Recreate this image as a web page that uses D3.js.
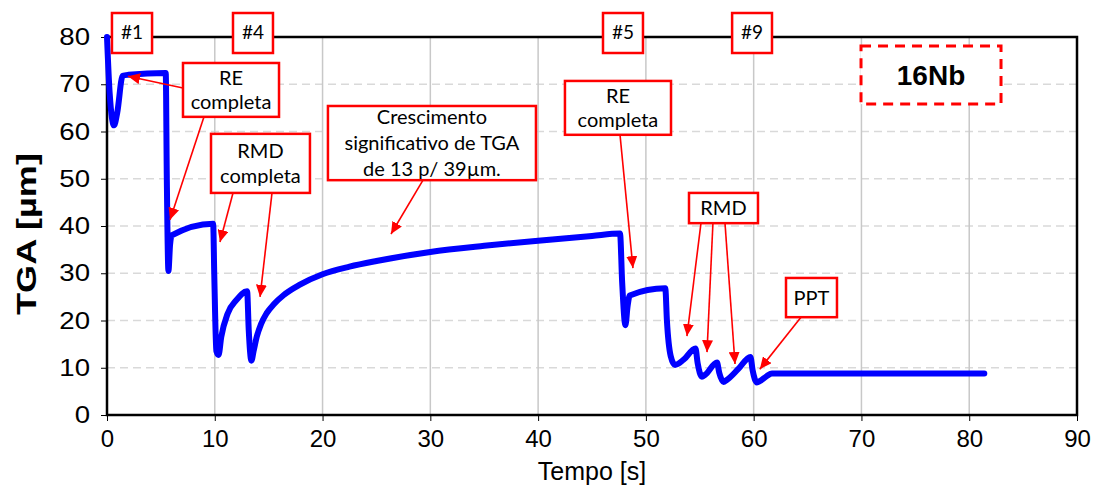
<!DOCTYPE html>
<html><head><meta charset="utf-8">
<script src="https://cdn.jsdelivr.net/npm/d3@7"></script>
<style>html,body{margin:0;padding:0;background:#fff;}svg{display:block;}</style>
</head><body>
<svg id="chart" width="1096" height="489"></svg>
<script>
// ---- data ----
const times = [0, 0.25, 0.65, 0.95, 1.45, 2.0, 5.45, 5.55, 5.7, 5.85, 6.0, 9.85, 9.95, 10.15, 10.35, 10.6, 11.2, 12.0, 13.0, 13.15, 13.4, 13.6, 13.9, 14.3, 14.8, 15.5, 16.4, 17.9, 20, 22.5, 25, 30, 35, 40, 45, 47.6, 47.8, 48.1, 48.3, 48.5, 51.8, 51.95, 52.3, 52.7, 53.5, 54.6, 54.8, 55.2, 55.5, 56.6, 56.8, 57.2, 57.5, 58.6, 59.7, 59.9, 60.3, 60.6, 61.2, 61.7, 70, 81.4];
const tga = [80, 68, 61.3, 64, 71.8, 72.0, 72.4, 50, 30.5, 36, 38, 40.5, 30, 13.5, 12.7, 16.5, 21.5, 24.3, 26.2, 18, 11.5, 13.5, 16.6, 19.3, 21.5, 23.5, 25.4, 27.6, 29.8, 31.4, 32.6, 34.5, 35.8, 36.9, 37.9, 38.4, 28, 19, 23, 25.3, 26.8, 20, 12.5, 10.6, 11.7, 14.1, 11, 8.1, 8.5, 11.1, 9, 7, 7.4, 9.8, 12.3, 9.5, 6.9, 7.2, 8.2, 8.8, 8.8, 8.8];
const xTicks = [0, 10, 20, 30, 40, 50, 60, 70, 80, 90];
const yTicks = [0, 10, 20, 30, 40, 50, 60, 70, 80];
const xTitle = "Tempo [s]";
const yTitle = "TGA [µm]";
const seriesLabel = "16Nb";

// annotation boxes (data units) and arrows (data units)
const tagBoxes = [
  {text: "#1", x0: 0.46, x1: 4.18},
  {text: "#4", x0: 11.69, x1: 15.40},
  {text: "#5", x0: 46.02, x1: 49.73},
  {text: "#9", x0: 58.0, x1: 61.7}
];
const noteBoxes = [
  {lines: ["RE", "completa"], x0: 7.05, x1: 15.96, y0: 63.1, y1: 74.5},
  {lines: ["RMD", "completa"], x0: 9.65, x1: 18.83, y0: 47.0, y1: 59.5},
  {lines: ["Crescimento", "significativo de TGA", "de 13 p/ 39µm."], x0: 20.5, x1: 39.8, y0: 49.7, y1: 65.4},
  {lines: ["RE", "completa"], x0: 42.49, x1: 52.33, y0: 59.3, y1: 70.7},
  {lines: ["RMD"], x0: 54.0, x1: 60.4, y0: 40.6, y1: 47.0},
  {lines: ["PPT"], x0: 63.0, x1: 67.73, y0: 20.7, y1: 29.0}
];
const arrows = [
  [7.05, 69.2, 1.95, 71.7],
  [9.0, 63.1, 5.85, 41.3],
  [11.69, 47.0, 10.48, 36.6],
  [15.31, 47.0, 14.2, 25.0],
  [29.32, 49.7, 26.35, 38.3],
  [47.6, 59.3, 48.8, 31.1],
  [55.11, 40.6, 53.81, 16.7],
  [56.22, 40.6, 55.67, 13.3],
  [57.34, 40.6, 58.27, 10.8],
  [64.39, 20.7, 60.57, 9.7]
];
const labelBox = {x0: 69.96, x1: 82.95, y0: 65.8, y1: 78.1};

// ---- layout ----
const W = 1096, H = 489;
const m = {left: 107, right: 1096 - 1077, top: 37, bottom: 489 - 415};
const svg = d3.select("#chart");
const x = d3.scaleLinear().domain([0, 90]).range([m.left, W - m.right]);
const y = d3.scaleLinear().domain([0, 80]).range([H - m.bottom, m.top]);

const defs = svg.append("defs");
defs.append("marker").attr("id", "ah").attr("markerUnits", "userSpaceOnUse")
  .attr("viewBox", "0 0 12 11").attr("refX", 12).attr("refY", 5.5)
  .attr("markerWidth", 12).attr("markerHeight", 11).attr("orient", "auto")
  .append("path").attr("d", "M0,0 L12,5.5 L0,11 Z").attr("fill", "#ff0000");

// gridlines
svg.append("g").selectAll("line").data(yTicks.filter(d => d > 0 && d < 80)).join("line")
  .attr("x1", x(0)).attr("x2", x(90)).attr("y1", d => y(d)).attr("y2", d => y(d))
  .attr("stroke", "#d9d9d9").attr("stroke-width", 1.5).attr("stroke-dasharray", "8,5");
svg.append("g").selectAll("line").data(xTicks.filter(d => d > 0 && d < 90)).join("line")
  .attr("x1", d => x(d)).attr("x2", d => x(d)).attr("y1", y(0)).attr("y2", y(80))
  .attr("stroke", "#c8c8c8").attr("stroke-width", 1.5);

// axes
const xAxis = svg.append("g").attr("transform", `translate(0,${y(0)})`)
  .call(d3.axisBottom(x).tickValues(xTicks).tickSize(6).tickPadding(8).tickFormat(d3.format("d")));
xAxis.select(".domain").remove();
xAxis.selectAll("line").attr("stroke", "#000").attr("stroke-width", 1);
xAxis.selectAll("text").attr("font-family", "Liberation Sans, Arial, sans-serif").attr("font-size", 24).attr("fill", "#000").attr("dy", "0.75em");

const yAxis = svg.append("g").attr("transform", `translate(${x(0)},0)`)
  .call(d3.axisLeft(y).tickValues(yTicks).tickSize(6).tickPadding(11).tickFormat(d3.format("d")));
yAxis.select(".domain").remove();
yAxis.selectAll("line").attr("stroke", "#000").attr("stroke-width", 1);
yAxis.selectAll("text").attr("font-family", "Liberation Sans, Arial, sans-serif").attr("font-size", 24).attr("fill", "#000")
  .each(function() { const l = this.getComputedTextLength(); d3.select(this).attr("textLength", l * 1.15).attr("lengthAdjust", "spacingAndGlyphs"); });

// frame
svg.append("rect").attr("x", x(0)).attr("y", y(80)).attr("width", x(90) - x(0)).attr("height", y(0) - y(80))
  .attr("fill", "none").attr("stroke", "#000").attr("stroke-width", 2.5);

// titles
svg.append("text").attr("x", x(45)).attr("y", 480).attr("text-anchor", "middle")
  .attr("font-family", "Liberation Sans, Arial, sans-serif").attr("font-size", 25).attr("fill", "#000").text(xTitle);
svg.append("text").attr("transform", `translate(36,${(y(0) + y(80)) / 2 + 8}) rotate(-90)`).attr("text-anchor", "middle")
  .attr("font-family", "Liberation Sans, Arial, sans-serif").attr("font-weight", "bold").attr("font-size", 28).attr("fill", "#000")
  .attr("textLength", 162).attr("lengthAdjust", "spacingAndGlyphs").text(yTitle);

// series
const line = d3.line().x((d, i) => x(times[i])).y(d => y(d)).curve(d3.curveMonotoneX);
svg.append("path").datum(tga).attr("d", line).attr("fill", "none").attr("stroke", "#0000ff")
  .attr("stroke-width", 6).attr("stroke-linejoin", "round").attr("stroke-linecap", "round");

// arrows
svg.append("g").selectAll("line").data(arrows).join("line")
  .attr("x1", d => x(d[0])).attr("y1", d => y(d[1])).attr("x2", d => x(d[2])).attr("y2", d => y(d[3]))
  .attr("stroke", "#ff0000").attr("stroke-width", 1.6).attr("marker-end", "url(#ah)");

const boxFont = "Lato, 'Open Sans', sans-serif";
// note boxes
noteBoxes.forEach(b => {
  const g = svg.append("g");
  const bx = x(b.x0), bw = x(b.x1) - x(b.x0), by = y(b.y1), bh = y(b.y0) - y(b.y1);
  g.append("rect").attr("x", bx).attr("y", by).attr("width", bw).attr("height", bh)
    .attr("fill", "#fff").attr("stroke", "#ff0000").attr("stroke-width", 2.5);
  const lh = b.lines.length === 3 ? 26 : 24.5;
  const cy = by + bh / 2;
  b.lines.forEach((t, i) => {
    g.append("text").attr("x", bx + bw / 2).attr("y", cy + (i - (b.lines.length - 1) / 2) * lh)
      .attr("dy", "0.36em").attr("text-anchor", "middle").attr("font-family", boxFont)
      .attr("font-size", 20).attr("fill", "#000").text(t);
  });
});

// tag boxes at the top
tagBoxes.forEach(b => {
  const g = svg.append("g");
  const bx = x(b.x0), bw = x(b.x1) - x(b.x0);
  g.append("rect").attr("x", bx).attr("y", 13).attr("width", bw).attr("height", 40)
    .attr("fill", "#fff").attr("stroke", "#ff0000").attr("stroke-width", 2.5);
  g.append("text").attr("x", bx + bw / 2).attr("y", 39).attr("text-anchor", "middle")
    .attr("font-family", boxFont).attr("font-size", 19).attr("fill", "#000").text(b.text);
});

// series label box (dashed)
{
  const bx = x(labelBox.x0), bw = x(labelBox.x1) - x(labelBox.x0), by = y(labelBox.y1), bh = y(labelBox.y0) - y(labelBox.y1);
  svg.append("rect").attr("x", bx).attr("y", by).attr("width", bw).attr("height", bh)
    .attr("fill", "#fff").attr("stroke", "#ff0000").attr("stroke-width", 3).attr("stroke-dasharray", "10,7");
  svg.append("text").attr("x", bx + bw / 2).attr("y", by + bh / 2).attr("dy", "0.36em").attr("text-anchor", "middle")
    .attr("font-family", "Liberation Sans, Arial, sans-serif").attr("font-weight", "bold").attr("font-size", 28)
    .attr("fill", "#000").text(seriesLabel);
}
</script>
</body></html>
